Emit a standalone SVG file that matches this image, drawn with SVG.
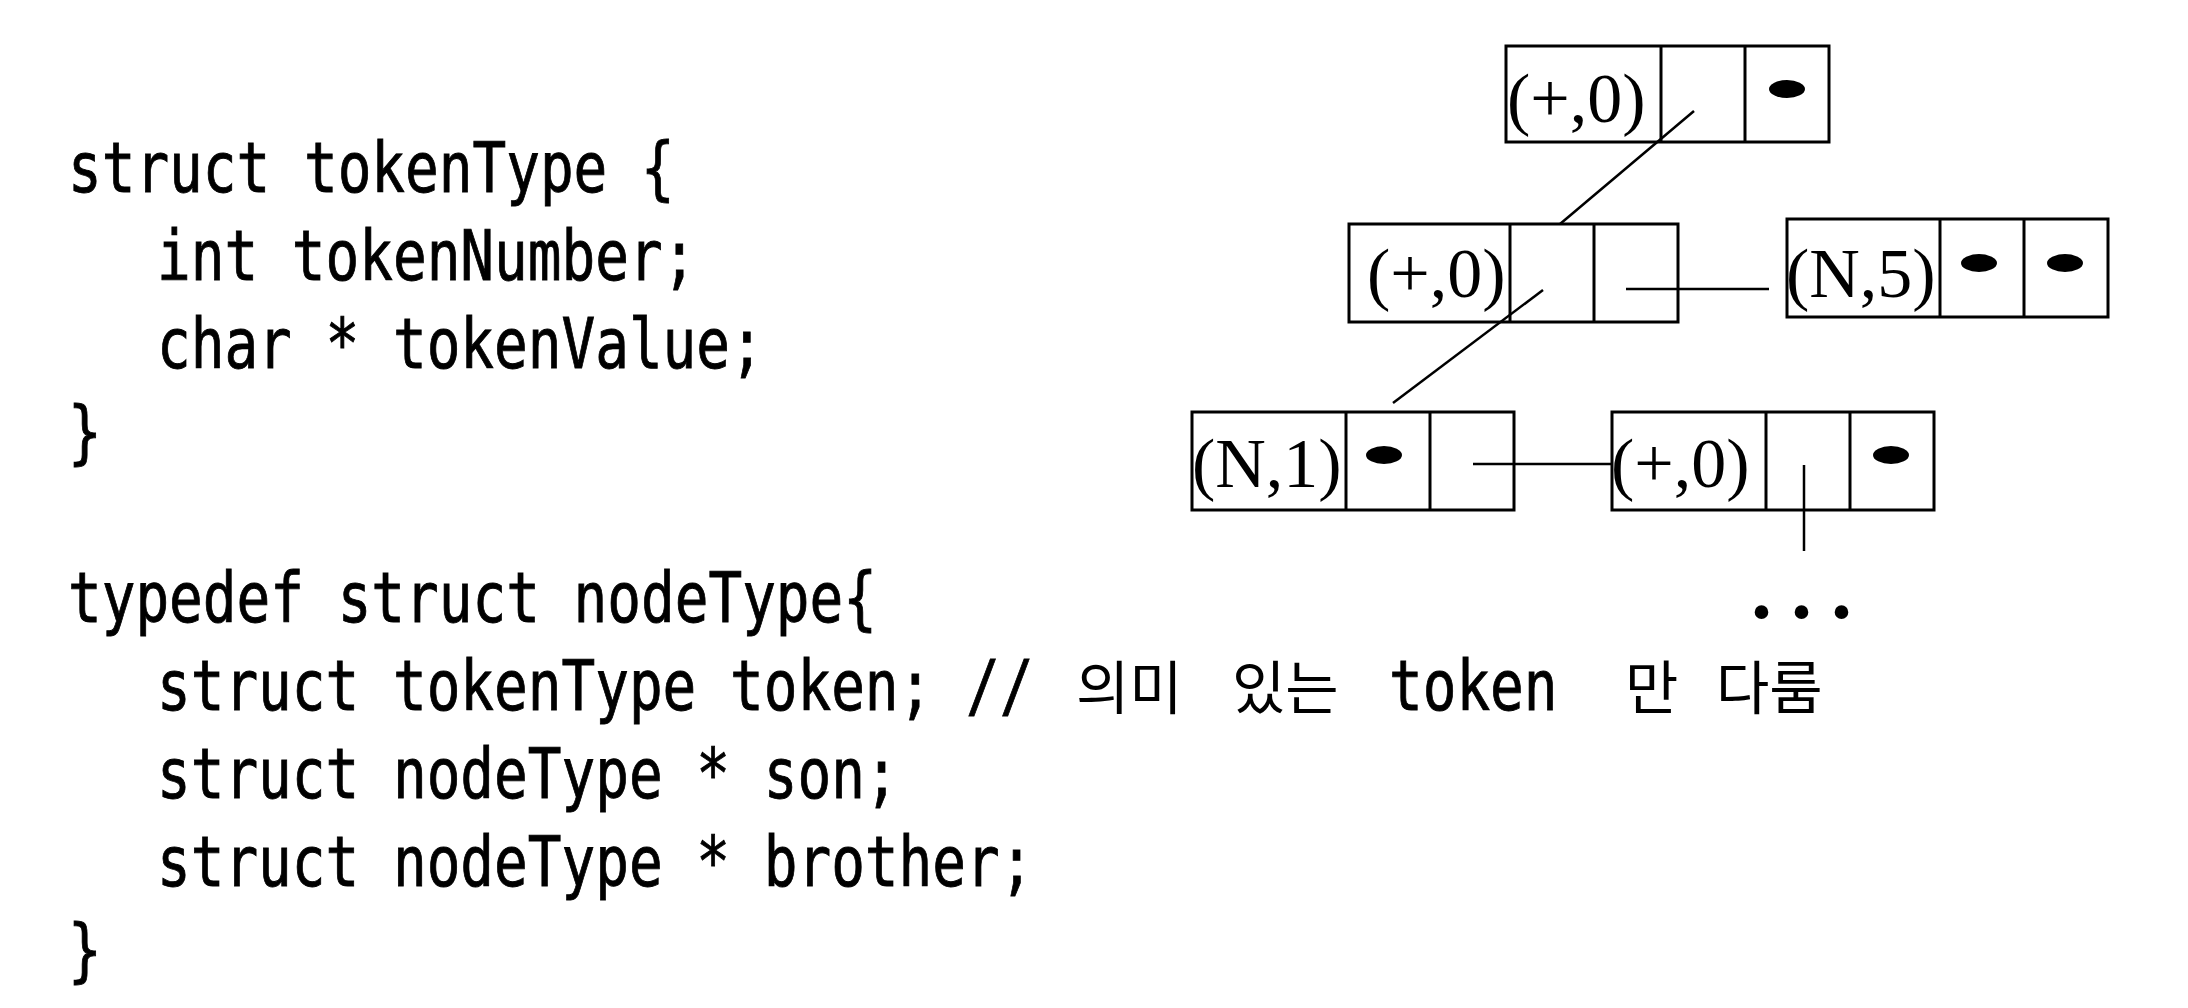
<svg xmlns="http://www.w3.org/2000/svg" width="2188" height="1008" viewBox="0 0 2188 1008">
<style>
.code{font-family:"DejaVu Sans Mono","Liberation Mono",monospace;font-size:56px;fill:#000;stroke:#000;stroke-width:0.7px}
.kr{font-family:"Noto Sans CJK KR","Noto Sans CJK SC",sans-serif;font-size:58px;fill:#000}
.lbl{font-family:"Liberation Serif","Times New Roman",serif;font-size:70px;fill:#000}
.box{fill:none;stroke:#000;stroke-width:3}
.div{stroke:#000;stroke-width:3}
.dot{fill:#000}
.con{stroke:#000;stroke-width:2.5;fill:none}
.ell{font-family:"Liberation Serif",serif;font-weight:bold;font-size:84px;letter-spacing:19px;fill:#000}
</style>
<rect width="2188" height="1008" fill="#fff"/>
<g id="code">
<text class="code" x="68" transform="matrix(1 0 0 1.25 0 192)">struct tokenType {</text>
<text class="code" x="157" transform="matrix(1 0 0 1.25 0 280)">int tokenNumber;</text>
<text class="code" x="157" transform="matrix(1 0 0 1.25 0 368)">char * tokenValue;</text>
<text class="code" x="68" transform="matrix(1 0 0 1.25 0 456)">}</text>
<text class="code" x="68" transform="matrix(1 0 0 1.25 0 622)">typedef struct nodeType{</text>
<text class="code" x="157" transform="matrix(1 0 0 1.25 0 710)">struct tokenType token; // </text>
<text class="kr" x="1076" y="709">의미</text>
<text class="kr" x="1232" y="709">있는</text>
<text class="code" x="1389" transform="matrix(1 0 0 1.25 0 710)">token</text>
<text class="kr" x="1625" y="709">만</text>
<text class="kr" x="1716" y="709">다룸</text>
<text class="code" x="157" transform="matrix(1 0 0 1.25 0 798)">struct nodeType * son;</text>
<text class="code" x="157" transform="matrix(1 0 0 1.25 0 886)">struct nodeType * brother;</text>
<text class="code" x="68" transform="matrix(1 0 0 1.25 0 974)">}</text>
</g>
<g id="connectors">
<line class="con" x1="1694" y1="111" x2="1560" y2="224"/>
<line class="con" x1="1626" y1="289" x2="1769" y2="289"/>
<line class="con" x1="1543" y1="290" x2="1393" y2="403"/>
<line class="con" x1="1473" y1="464" x2="1611" y2="464"/>
<line class="con" x1="1804" y1="465" x2="1804" y2="551"/>
</g>
<g id="node-root">
<rect class="box" x="1506" y="46" width="323" height="96"/>
<line class="div" x1="1661" y1="46" x2="1661" y2="142"/>
<line class="div" x1="1745" y1="46" x2="1745" y2="142"/>
<text class="lbl" x="1507" y="122">(+,0)</text>
<ellipse class="dot" cx="1787" cy="89" rx="18" ry="9"/>
</g>
<g id="node-plus">
<rect class="box" x="1349" y="224" width="329" height="98"/>
<line class="div" x1="1510" y1="224" x2="1510" y2="322"/>
<line class="div" x1="1594" y1="224" x2="1594" y2="322"/>
<text class="lbl" x="1367" y="297">(+,0)</text>
</g>
<g id="node-n5">
<rect class="box" x="1787" y="219" width="321" height="98"/>
<line class="div" x1="1940" y1="219" x2="1940" y2="317"/>
<line class="div" x1="2024" y1="219" x2="2024" y2="317"/>
<text class="lbl" x="1786" y="297">(N,5)</text>
<ellipse class="dot" cx="1979" cy="263" rx="18" ry="9"/>
<ellipse class="dot" cx="2065" cy="263" rx="18" ry="9"/>
</g>
<g id="node-n1">
<rect class="box" x="1192" y="412" width="322" height="98"/>
<line class="div" x1="1346" y1="412" x2="1346" y2="510"/>
<line class="div" x1="1430" y1="412" x2="1430" y2="510"/>
<text class="lbl" x="1192" y="487">(N,1)</text>
<ellipse class="dot" cx="1384" cy="455" rx="18" ry="9"/>
</g>
<g id="node-plus2">
<rect class="box" x="1612" y="412" width="322" height="98"/>
<line class="div" x1="1766" y1="412" x2="1766" y2="510"/>
<line class="div" x1="1850" y1="412" x2="1850" y2="510"/>
<text class="lbl" x="1611" y="487">(+,0)</text>
<ellipse class="dot" cx="1891" cy="455" rx="18" ry="9"/>
</g>
<g id="ellipsis">
<text class="ell" x="1751" y="618">...</text>
</g>
</svg>
